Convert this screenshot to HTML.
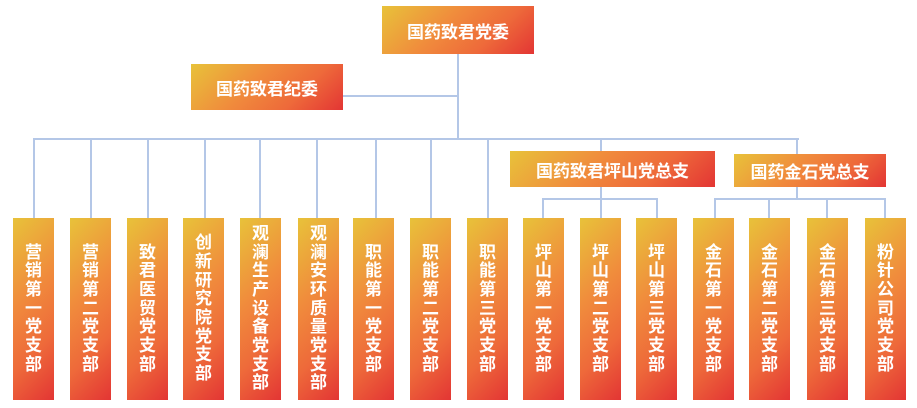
<!DOCTYPE html>
<html><head><meta charset="utf-8"><style>
body{margin:0;width:917px;height:408px;background:#fff;position:relative;overflow:hidden;font-family:"Liberation Sans","Noto Sans CJK SC",sans-serif;}
.b{position:absolute;background:linear-gradient(135deg,#e8c23a 0%,#f08c3c 40%,#ee6a3a 70%,#e33534 100%);color:#fff;font-weight:bold;display:flex;align-items:center;justify-content:center;}
.h{font-size:17px;}
.v{width:41px;top:218px;height:182px;flex-direction:column;font-size:17px;line-height:18.7px;text-align:center;}
.l{position:absolute;background:#b4c7e7;}
</style></head><body>
<!-- lines -->
<div class="l" style="left:457px;top:54px;width:2px;height:86px"></div>
<div class="l" style="left:343px;top:95px;width:115px;height:2px"></div>
<div class="l" style="left:33px;top:138px;width:766px;height:2px"></div>
<div class="l" style="left:33px;top:138px;width:2px;height:82px"></div>
<div class="l" style="left:90px;top:138px;width:2px;height:82px"></div>
<div class="l" style="left:147px;top:138px;width:2px;height:82px"></div>
<div class="l" style="left:204px;top:138px;width:2px;height:82px"></div>
<div class="l" style="left:259px;top:138px;width:2px;height:82px"></div>
<div class="l" style="left:316px;top:138px;width:2px;height:82px"></div>
<div class="l" style="left:375px;top:138px;width:2px;height:82px"></div>
<div class="l" style="left:430px;top:138px;width:2px;height:82px"></div>
<div class="l" style="left:487px;top:138px;width:2px;height:82px"></div>
<div class="l" style="left:600px;top:138px;width:2px;height:14px"></div>
<div class="l" style="left:796px;top:138px;width:2px;height:16px"></div>
<div class="l" style="left:600px;top:186px;width:2px;height:14px"></div>
<div class="l" style="left:542px;top:198px;width:116px;height:2px"></div>
<div class="l" style="left:542px;top:198px;width:2px;height:20px"></div>
<div class="l" style="left:600px;top:198px;width:2px;height:20px"></div>
<div class="l" style="left:656px;top:198px;width:2px;height:20px"></div>
<div class="l" style="left:796px;top:186px;width:2px;height:14px"></div>
<div class="l" style="left:714px;top:198px;width:172px;height:2px"></div>
<div class="l" style="left:714px;top:198px;width:2px;height:20px"></div>
<div class="l" style="left:768px;top:198px;width:2px;height:20px"></div>
<div class="l" style="left:826px;top:198px;width:2px;height:20px"></div>
<div class="l" style="left:884px;top:198px;width:2px;height:20px"></div>
<!-- header boxes -->
<div class="b h" style="left:382px;top:6px;width:152px;height:48px">国药致君党委</div>
<div class="b h" style="left:191px;top:64px;width:152px;height:46px">国药致君纪委</div>
<div class="b h" style="left:510px;top:151px;width:205px;height:36px">国药致君坪山党总支</div>
<div class="b h" style="left:734px;top:154px;width:152px;height:33px">国药金石党总支</div>
<!-- columns -->
<div class="b v" style="left:13px">营<br>销<br>第<br>一<br>党<br>支<br>部</div>
<div class="b v" style="left:70px">营<br>销<br>第<br>二<br>党<br>支<br>部</div>
<div class="b v" style="left:127px">致<br>君<br>医<br>贸<br>党<br>支<br>部</div>
<div class="b v" style="left:183px">创<br>新<br>研<br>究<br>院<br>党<br>支<br>部</div>
<div class="b v" style="left:240px">观<br>澜<br>生<br>产<br>设<br>备<br>党<br>支<br>部</div>
<div class="b v" style="left:298px">观<br>澜<br>安<br>环<br>质<br>量<br>党<br>支<br>部</div>
<div class="b v" style="left:353px">职<br>能<br>第<br>一<br>党<br>支<br>部</div>
<div class="b v" style="left:410px">职<br>能<br>第<br>二<br>党<br>支<br>部</div>
<div class="b v" style="left:467px">职<br>能<br>第<br>三<br>党<br>支<br>部</div>
<div class="b v" style="left:523px">坪<br>山<br>第<br>一<br>党<br>支<br>部</div>
<div class="b v" style="left:580px">坪<br>山<br>第<br>二<br>党<br>支<br>部</div>
<div class="b v" style="left:636px">坪<br>山<br>第<br>三<br>党<br>支<br>部</div>
<div class="b v" style="left:693px">金<br>石<br>第<br>一<br>党<br>支<br>部</div>
<div class="b v" style="left:749px">金<br>石<br>第<br>二<br>党<br>支<br>部</div>
<div class="b v" style="left:807px">金<br>石<br>第<br>三<br>党<br>支<br>部</div>
<div class="b v" style="left:865px">粉<br>针<br>公<br>司<br>党<br>支<br>部</div>
</body></html>
